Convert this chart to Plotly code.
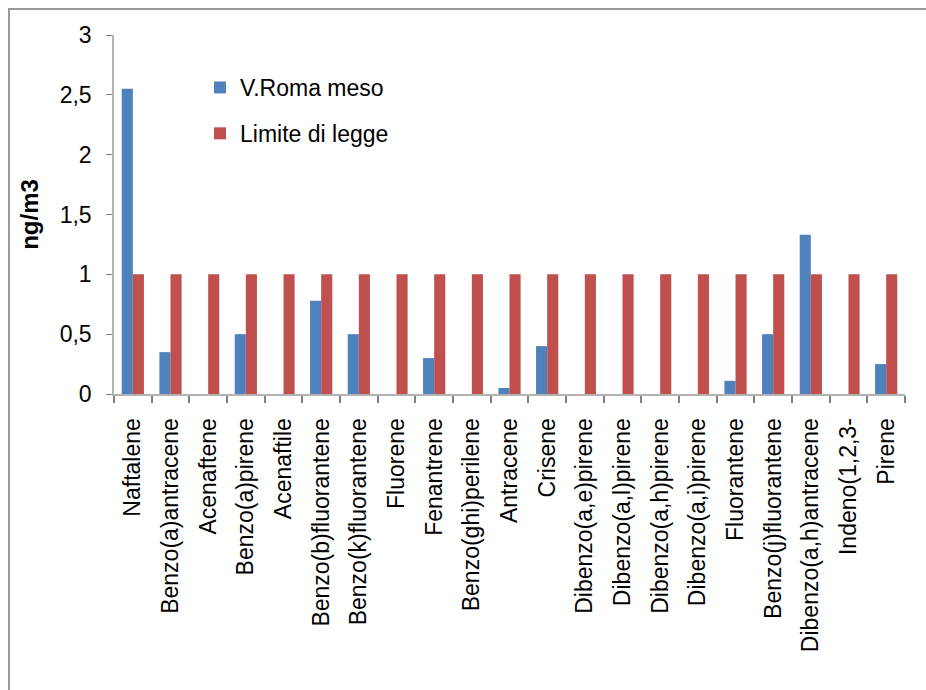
import plotly.graph_objects as go

categories = [
    "Naftalene", "Benzo(a)antracene", "Acenaftene", "Benzo(a)pirene", "Acenaftile",
    "Benzo(b)fluorantene", "Benzo(k)fluorantene", "Fluorene", "Fenantrene",
    "Benzo(ghi)perilene", "Antracene", "Crisene", "Dibenzo(a,e)pirene",
    "Dibenzo(a,l)pirene", "Dibenzo(a,h)pirene", "Dibenzo(a,i)pirene", "Fluorantene",
    "Benzo(j)fluorantene", "Dibenzo(a,h)antracene", "Indeno(1,2,3-", "Pirene",
]
roma_meso = [2.55, 0.35, 0, 0.5, 0, 0.78, 0.5, 0, 0.30, 0, 0.05, 0.40, 0, 0, 0, 0,
             0.11, 0.5, 1.33, 0, 0.25]
limite = [1] * len(categories)
y_ticks = [0, 0.5, 1, 1.5, 2, 2.5, 3]

FONT = "Liberation Sans, Arial, sans-serif"

fig = go.Figure()
fig.add_trace(go.Bar(x=categories, y=roma_meso, name="V.Roma meso",
                     marker=dict(color="#4F81BD", line=dict(width=0)),
                     legendgroup="a"))
fig.add_trace(go.Bar(x=categories, y=limite, name="Limite di legge",
                     marker=dict(color="#C0504D", line=dict(width=0)),
                     legendgroup="b"))

W, H = 926, 690
ml, mr, mt, mb = 114, 21, 35, 296
pw, ph = W - ml - mr, H - mt - mb

def px_x(p):
    return (p - ml) / pw

def px_y(p):
    return 1 - (p - mt) / ph

fig.update_layout(
    width=W, height=H,
    margin=dict(l=ml, r=mr, t=mt, b=mb, autoexpand=False),
    paper_bgcolor="white", plot_bgcolor="white",
    separators=", ",
    font=dict(family=FONT, size=23, color="black"),
    barmode="group", bargap=0.41, bargroupgap=0,
    showlegend=True,
    legend=dict(x=px_x(200), y=px_y(66), xanchor="left", yanchor="top",
                bgcolor="rgba(0,0,0,0)", font=dict(size=23, family=FONT),
                traceorder="grouped", tracegroupgap=13),
    xaxis=dict(type="category", tickangle=-90, showline=True, linecolor="#b3b3b3",
               linewidth=2, ticks="outside", tickson="boundaries", ticklen=7,
               tickcolor="#808080", tickwidth=1.5, showgrid=False, zeroline=False,
               ticklabelstandoff=13, tickfont=dict(size=23, family=FONT)),
    yaxis=dict(range=[0, 3], tickvals=y_ticks, showline=True, linecolor="#b3b3b3",
               linewidth=1.5, ticks="outside", ticklen=6, tickcolor="#808080",
               showgrid=False, zeroline=False, tickfont=dict(size=23, family=FONT),
               ticklabelstandoff=10,
               title=dict(text="<b>ng/m3</b>", font=dict(size=24, family=FONT),
                          standoff=14)),
    shapes=[dict(type="rect", xref="paper", yref="paper",
                 x0=px_x(9), x1=px_x(W + 20), y0=px_y(H + 20), y1=px_y(9),
                 line=dict(color="#9a9a9a", width=2), fillcolor="rgba(0,0,0,0)",
                 layer="below")],
)

fig.write_html("out.html")
